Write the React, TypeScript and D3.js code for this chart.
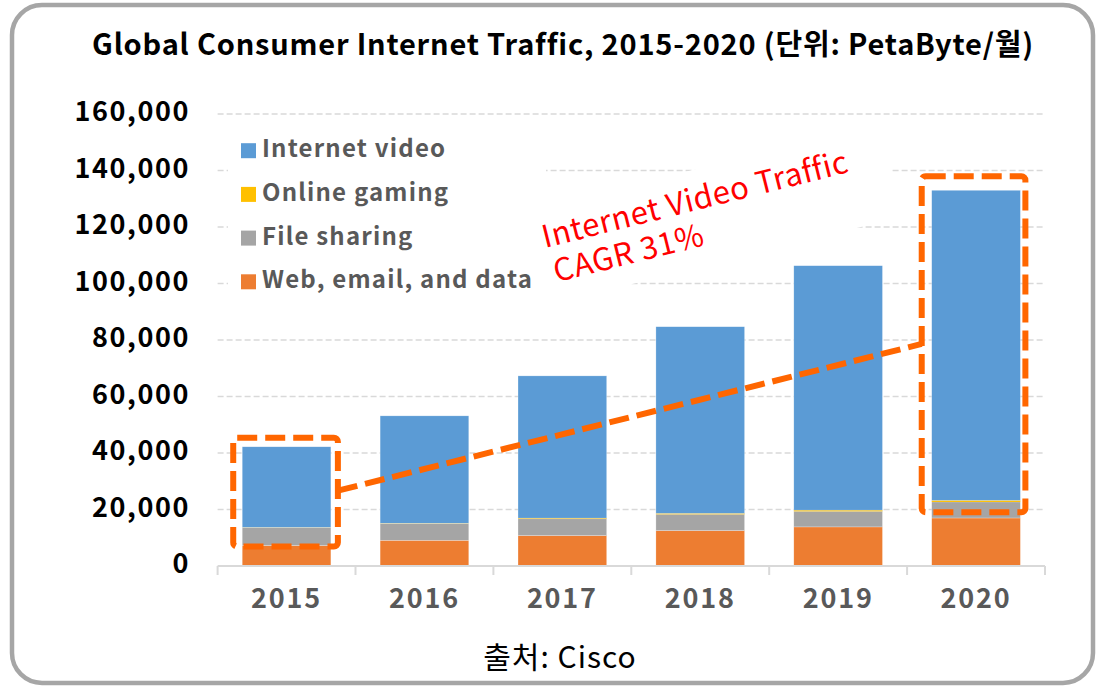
import React from "react";
import * as d3 from "d3";

// values (PetaByte / month)
const years = ["2015", "2016", "2017", "2018", "2019", "2020"];
const webEmailData = [7240, 9100, 10770, 12540, 13840, 17000];
const fileSharing = [6360, 5900, 5930, 5760, 5510, 5670];
const onlineGaming = [80, 120, 250, 330, 420, 560];
const internetVideo = [28520, 38030, 50350, 66070, 86530, 109770];
const yTicks = [0, 20000, 40000, 60000, 80000, 100000, 120000, 140000, 160000];

const seriesNames = ["Web, email, and data", "File sharing", "Online gaming", "Internet video"];
const seriesColors = ["#ed7d31", "#a5a5a5", "#ffc000", "#5b9bd5"];
const legendOrder = [3, 2, 1, 0];

// annotation: trend from 2015 box to 2020 box
const trendFrom = 26650;
const trendTo = 78600;
const boxBottoms = [6900, 19000];

const W = 1097;
const H = 686;
const FONT = "'Noto Sans CJK KR', 'Noto Sans', sans-serif";

const App = () => {
  const x = d3.scaleBand<string>()
    .domain(years)
    .range([217.6, 1045])
    .paddingInner(0.357)
    .paddingOuter(0.1785);
  const y = d3.scaleLinear().domain([0, 160000]).range([566, 114]);

  const rows = years.map((yr, i) => ({
    year: yr,
    s0: webEmailData[i],
    s1: fileSharing[i],
    s2: onlineGaming[i],
    s3: internetVideo[i],
  }));
  const stacked = d3.stack<any>().keys(["s0", "s1", "s2", "s3"])(rows);

  const fmt = d3.format(",");
  const [r0, r1] = x.range();
  const step = x.step();
  const bw = x.bandwidth();

  const first = years[0];
  const last = years[years.length - 1];
  const top0 = y(stacked[3][0][1]);
  const topN = y(stacked[3][years.length - 1][1]);
  const box1 = { x0: x(first)! - 9, x1: x(first)! + bw + 7, y0: top0 - 9, y1: y(boxBottoms[0]) };
  const box2 = { x0: x(last)! - 10, x1: x(last)! + bw + 5, y0: topN - 14, y1: y(boxBottoms[1]) };

  const tickXs = d3.range(years.length + 1).map((i) => r0 + i * step);

  return (
    <div style={{ position: "absolute", left: 0, top: 0 }}>
      <svg width={W} height={H} style={{ display: "block", fontFamily: FONT }}>
        <rect width={W} height={H} fill="#fff" />
        <rect x={12} y={5} width={1081} height={678} rx={30} ry={30}
          fill="#fff" stroke="#a6a6a6" strokeWidth={4.5} />

        <text x={563} y={47} textAnchor="middle" dominantBaseline="middle"
          fontSize={29} fontWeight={600} fill="#000" letterSpacing={0.8}>
          Global Consumer Internet Traffic, 2015-2020 (단위: PetaByte/월)
        </text>

        {/* grid */}
        {yTicks.slice(1).map((t) => (
          <line key={t} x1={r0} x2={r1} y1={y(t)} y2={y(t)}
            stroke="#d9d9d9" strokeWidth={1.5} strokeDasharray="6 3" />
        ))}
        {yTicks.map((t) => (
          <text key={"l" + t} x={190} y={y(t)} textAnchor="end" dominantBaseline="middle"
            fontSize={27} fontWeight={700} fill="#000" letterSpacing={1.6}>
            {fmt(t)}
          </text>
        ))}

        {/* legend background + annotation background hide the grid */}
        <rect x={228} y={125} width={318} height={176} fill="#fff" />
        <g transform="translate(545,248) rotate(-14)">
          <rect x={-15} y={-40} width={370} height={96} fill="#fff" />
        </g>

        {/* bars */}
        {stacked.map((s, si) => (
          <g key={si} fill={seriesColors[si]}>
            {s.map((d, i) => (
              <rect key={i} x={x(years[i])} width={bw}
                y={y(d[1])} height={Math.max(0, y(d[0]) - y(d[1]))}
                stroke={si === 2 ? "none" : "#ffffff"} strokeOpacity={0.5} strokeWidth={0.5} />
            ))}
          </g>
        ))}

        {/* x axis */}
        <line x1={r0} x2={r1} y1={y(0)} y2={y(0)} stroke="#d9d9d9" strokeWidth={2} />
        {tickXs.map((tx, i) => (
          <line key={i} x1={tx} x2={tx} y1={y(0)} y2={y(0) + 9} stroke="#d9d9d9" strokeWidth={2} />
        ))}
        {years.map((yr) => (
          <text key={yr} x={x(yr)! + bw / 2} y={601} textAnchor="middle" dominantBaseline="middle"
            fontSize={27} fontWeight={600} fill="#595959" letterSpacing={1.8}>
            {yr}
          </text>
        ))}

        {/* legend */}
        {legendOrder.map((si, k) => (
          <g key={si} transform={`translate(241,${150.7 + k * 43.7})`}>
            <rect x={0} y={-7.5} width={15} height={15} fill={seriesColors[si]} />
            <text x={21} y={0} dominantBaseline="middle" fontSize={24} fontWeight={600}
              fill="#595959" letterSpacing={1.2}>
              {seriesNames[si]}
            </text>
          </g>
        ))}

        {/* annotation */}
        <g stroke="#ff6600" strokeWidth={6} fill="none" strokeDasharray="20 8">
          <rect x={box1.x0} y={box1.y0} width={box1.x1 - box1.x0} height={box1.y1 - box1.y0} rx={4} />
          <rect x={box2.x0} y={box2.y0} width={box2.x1 - box2.x0} height={box2.y1 - box2.y0} rx={4} />
          <line x1={box1.x1} y1={y(trendFrom)} x2={box2.x0} y2={y(trendTo)} />
        </g>
        <g transform="translate(545,248) rotate(-14)" fill="#ff0000" fontSize={31} letterSpacing={0.6}>
          <text x={0} y={0}>Internet Video Traffic</text>
          <text x={3} y={36}>CAGR 31%</text>
        </g>

        <text x={560} y={660} textAnchor="middle" dominantBaseline="middle" fontSize={30}
          fill="#000" letterSpacing={1}>
          출처: Cisco
        </text>
      </svg>
    </div>
  );
};

export default App;
